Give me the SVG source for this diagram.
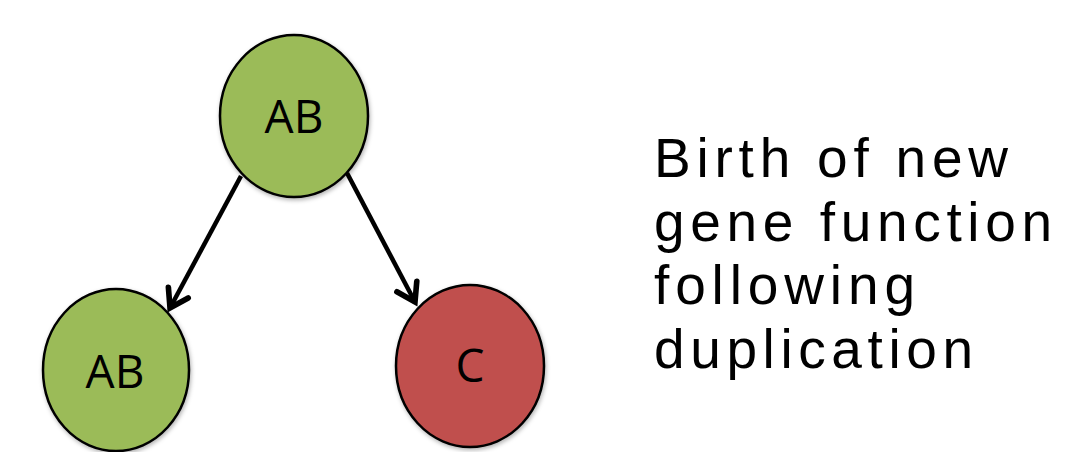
<svg xmlns="http://www.w3.org/2000/svg" width="1065" height="452" viewBox="0 0 1065 452">
  <style>
    .node { stroke: #000; stroke-width: 2.5; filter: url(#shadow); }
    .green { fill: #9BBB59; }
    .red { fill: #C0504D; }
    .label { font-family: "Open Sans", "Liberation Sans", sans-serif; font-size: 46px; fill: #000; text-anchor: middle; }
    .conn { stroke: #000; stroke-width: 4.5; fill: none; marker-end: url(#arrow); }
    .caption { font-family: "Liberation Sans", "DejaVu Sans", sans-serif; font-size: 55px; fill: #000; }
  </style>
  <defs>
    <filter id="shadow" x="-20%" y="-20%" width="140%" height="140%">
      <feDropShadow dx="1" dy="2" stdDeviation="2" flood-color="#000" flood-opacity="0.3"/>
    </filter>
    <marker id="arrow" markerUnits="userSpaceOnUse" markerWidth="30" markerHeight="30" viewBox="-16 -12 20 24" refX="0" refY="0" orient="auto">
      <path d="M-14,-9 L0,0 L-14,9" fill="none" stroke="#000" stroke-width="4.5" stroke-linecap="round" stroke-linejoin="miter"/>
    </marker>
  </defs>
  <rect width="1065" height="452" fill="#fff"/>
  <g id="connectors">
    <line class="conn" x1="241" y1="176" x2="170" y2="308"/>
    <line class="conn" x1="347" y1="173" x2="415" y2="302"/>
  </g>
  <g id="node-top">
    <ellipse class="node green" cx="294" cy="116" rx="74" ry="81"/>
    <text class="label" x="294" y="133">AB</text>
  </g>
  <g id="node-left">
    <ellipse class="node green" cx="116" cy="370" rx="73" ry="81"/>
    <text class="label" x="115" y="388">AB</text>
  </g>
  <g id="node-right">
    <ellipse class="node red" cx="470" cy="366" rx="74" ry="81"/>
    <text class="label" x="470" y="382">C</text>
  </g>
  <g id="caption">
    <text class="caption" x="654" y="177" textLength="354" lengthAdjust="spacing">Birth of new</text>
    <text class="caption" x="654" y="241" textLength="398" lengthAdjust="spacing">gene function</text>
    <text class="caption" x="654" y="304" textLength="261" lengthAdjust="spacing">following</text>
    <text class="caption" x="654" y="368" textLength="319" lengthAdjust="spacing">duplication</text>
  </g>
</svg>
